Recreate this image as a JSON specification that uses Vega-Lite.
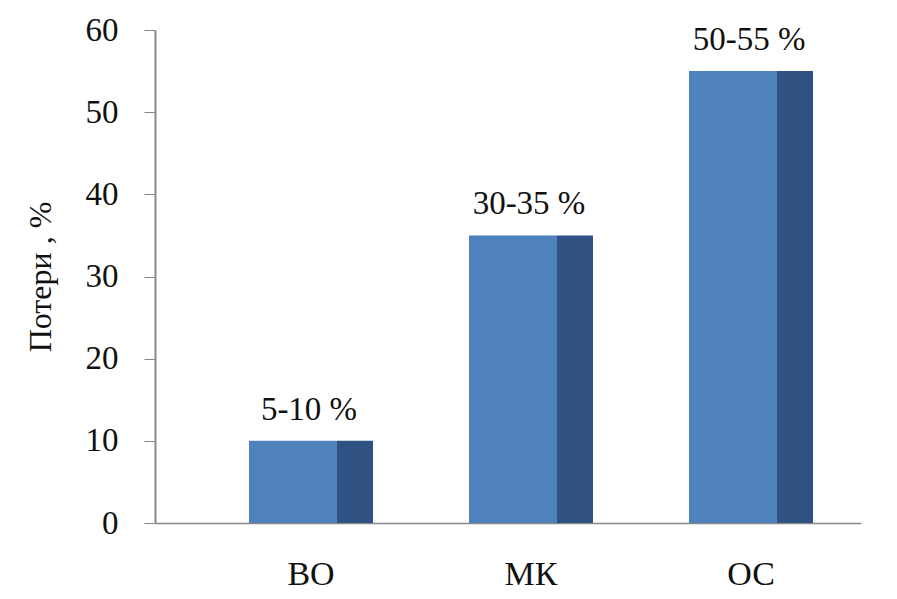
{
  "$schema": "https://vega.github.io/schema/vega-lite/v6.json",
  "width": 706,
  "height": 493,
  "autosize": {"type": "none"},
  "padding": {"left": 155, "top": 30, "right": 36, "bottom": 76},
  "background": "white",
  "config": {
    "view": {"stroke": null},
    "font": "Liberation Serif, serif"
  },
  "data": {
    "values": [
      {"group": "ВО", "value": 10, "label": "5-10 %"},
      {"group": "МК", "value": 35, "label": "30-35 %"},
      {"group": "ОС", "value": 55, "label": "50-55 %"}
    ]
  },
  "encoding": {
    "x": {
      "field": "group",
      "type": "nominal",
      "sort": null,
      "scale": {"paddingInner": 0, "paddingOuter": 0.1045, "align": 1},
      "axis": {
        "title": null,
        "labelAngle": 0,
        "labelFont": "Liberation Serif, serif",
        "labelFontSize": 34,
        "labelColor": "#111",
        "labelPadding": 34,
        "ticks": false,
        "domainColor": "#888",
        "domainWidth": 1.5
      }
    },
    "y": {
      "field": "value",
      "type": "quantitative",
      "scale": {"domain": [0, 60]},
      "axis": {
        "title": "Потери , %",
        "titleFont": "Liberation Serif, serif",
        "titleFontSize": 32,
        "titleFontWeight": "normal",
        "titleColor": "#111",
        "titlePadding": 28,
        "values": [0, 10, 20, 30, 40, 50, 60],
        "grid": false,
        "labelFont": "Liberation Serif, serif",
        "labelFontSize": 33,
        "labelColor": "#111",
        "labelPadding": 26,
        "tickSize": 11,
        "tickColor": "#888",
        "domainColor": "#888",
        "domainWidth": 2
      }
    }
  },
  "layer": [
    {
      "mark": {"type": "bar", "width": 88, "xOffset": -18, "color": "#4F81BD"}
    },
    {
      "mark": {"type": "bar", "width": 36, "xOffset": 44, "color": "#2F5282"}
    },
    {
      "mark": {
        "type": "text",
        "baseline": "bottom",
        "dy": -14,
        "xOffset": -2,
        "font": "Liberation Serif, serif",
        "fontSize": 33,
        "color": "#111"
      },
      "encoding": {"text": {"field": "label"}}
    }
  ]
}
